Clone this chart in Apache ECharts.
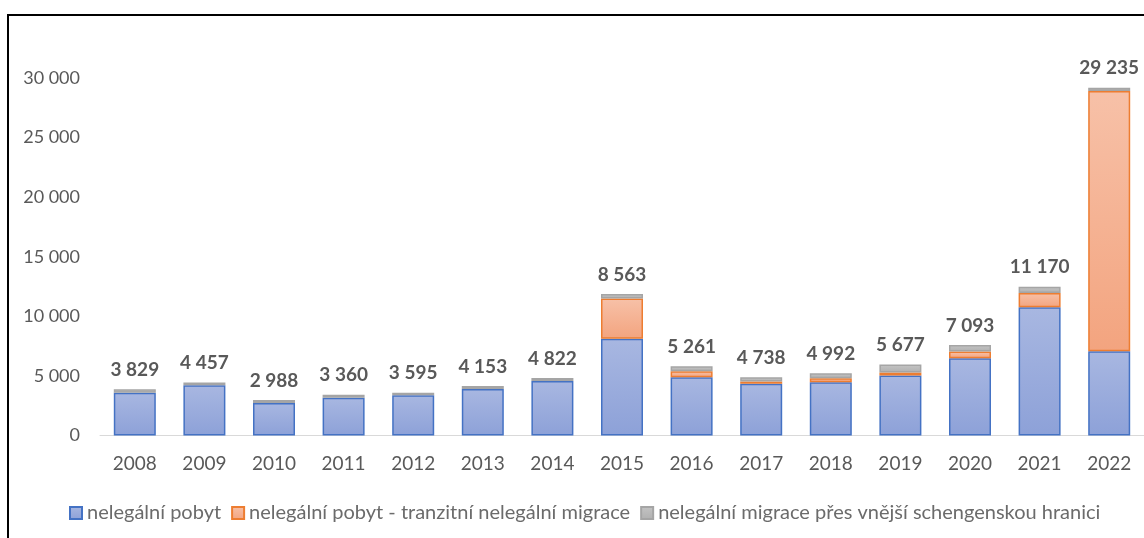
<!DOCTYPE html>
<html><head><meta charset="utf-8">
<script src="https://cdn.jsdelivr.net/npm/echarts@6/dist/echarts.min.js"></script>
<style>
html,body{margin:0;padding:0;background:#fff;}
#frame{position:absolute;left:7px;top:14px;width:1137px;height:524px;border-top:2px solid #000;border-left:2px solid #000;box-sizing:border-box;}
#c{position:absolute;left:0;top:0;width:1144px;height:538px;}
</style></head>
<body>
<div id="frame"></div>
<div id="c"></div>
<script>
const years = ['2008','2009','2010','2011','2012','2013','2014','2015','2016','2017','2018','2019','2020','2021','2022'];
const seriesNames = ['nelegální pobyt','nelegální pobyt - tranzitní nelegální migrace','nelegální migrace přes vnější schengenskou hranici'];
const pobyt = [3590, 4207, 2723, 3168, 3369, 3898, 4567, 8129, 4886, 4333, 4467, 5028, 6478, 10752, 7065];
const tranzit = [0, 0, 0, 0, 0, 0, 0, 3377, 503, 195, 335, 251, 561, 1207, 21847];
const schengen = [285, 250, 250, 250, 226, 250, 255, 369, 419, 363, 419, 670, 561, 528, 277];
const totalLabels = ['3 829','4 457','2 988','3 360','3 595','4 153','4 822','8 563','5 261','4 738','4 992','5 677','7 093','11 170','29 235'];
const yTicks = [0, 5000, 10000, 15000, 20000, 25000, 30000];

const font = 'Lato, "Open Sans", sans-serif';
const grad = (a, b) => new echarts.graphic.LinearGradient(0, 0, 0, 1, [{offset: 0, color: a}, {offset: 1, color: b}]);
const fmt = v => String(v).replace(/\B(?=(\d{3})+(?!\d))/g, ' ');
const noZero = arr => arr.map(v => v === 0 ? null : v);

const chart = echarts.init(document.getElementById('c'), null, {renderer: 'canvas'});
chart.setOption({
  animation: false,
  grid: {left: 100, right: 0, top: 78, bottom: 102.5},
  legend: {
    bottom: 10, left: 64,
    icon: 'rect',
    itemWidth: 12, itemHeight: 12, itemGap: 10,
    textStyle: {fontFamily: font, fontSize: 20, color: '#6b6b6b'},
    data: seriesNames
  },
  xAxis: {
    type: 'category', data: years,
    axisLine: {lineStyle: {color: '#D9D9D9', width: 1}},
    axisTick: {show: false},
    axisLabel: {fontFamily: font, fontSize: 19, color: '#595959', margin: 19}
  },
  yAxis: {
    type: 'value', min: yTicks[0], max: yTicks[yTicks.length - 1], interval: 5000,
    splitLine: {show: false}, axisLine: {show: false}, axisTick: {show: false},
    axisLabel: {fontFamily: font, fontSize: 18, color: '#595959', margin: 20, formatter: fmt}
  },
  series: [
    {
      name: seriesNames[0], type: 'bar', stack: 'a', barWidth: 42, data: noZero(pobyt),
      itemStyle: {color: grad('#A8B7E1', '#8DA1D8'), borderColor: '#4472C4', borderWidth: 1.5}
    },
    {
      name: seriesNames[1], type: 'bar', stack: 'a', barWidth: 42, data: noZero(tranzit),
      itemStyle: {color: grad('#F7C1A8', '#F3A47F'), borderColor: '#ED7D31', borderWidth: 1.5}
    },
    {
      name: seriesNames[2], type: 'bar', stack: 'a', barWidth: 42, data: noZero(schengen),
      itemStyle: {color: grad('#C4C4C4', '#B0B0B0'), borderColor: '#A5A5A5', borderWidth: 1.5},
      label: {
        show: true, position: 'top', distance: 10,
        fontFamily: font, fontSize: 19, fontWeight: 'bold', color: '#595959',
        formatter: p => totalLabels[p.dataIndex]
      }
    }
  ]
});
</script>
</body></html>
